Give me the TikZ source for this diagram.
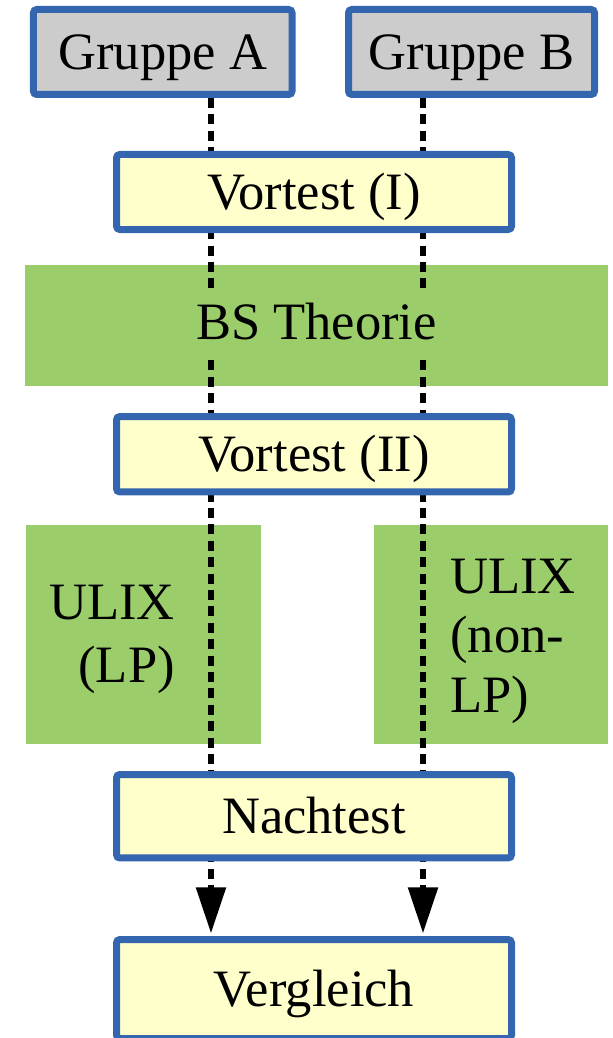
\documentclass[tikz,border=0pt]{standalone}
\usepackage{fontspec}
\setmainfont{Liberation Serif}
\usetikzlibrary{arrows.meta}

\definecolor{frameblue}{RGB}{52,101,175}
\definecolor{boxgray}{RGB}{204,204,204}
\definecolor{boxyellow}{RGB}{255,255,204}
\definecolor{phasegreen}{RGB}{155,205,106}

\pgfdeclarelayer{back}
\pgfsetlayers{back,main}

\tikzset{
  txt/.style={font=\fontsize{39.4}{46}\selectfont},
  framed/.style={draw=frameblue, line width=5.25pt, rounded corners=2.5pt,
    inner sep=0pt, text height=26pt, text depth=0pt, txt},
  groupbox/.style={framed, fill=boxgray, minimum height=63.75pt},
  testbox/.style={framed, fill=boxyellow, minimum width=296.25pt},
  phase/.style={fill=phasegreen, draw=none, inner sep=0pt},
  flow/.style={line width=4.2pt, dash pattern=on 7.5pt off 4.8pt,
    shorten >=2pt, -{Triangle[length=34.5pt,width=21.75pt]}}
}

\begin{document}
\begin{tikzpicture}[x=0.75pt,y=-0.75pt]
\useasboundingbox (0,0) rectangle (613,1038);

% green phase blocks (behind everything)
\begin{pgfonlayer}{back}
  \node[phase, minimum width=437.25pt, minimum height=90.75pt] (bs) at (316.5,325.5) {};
  \node[phase, minimum width=176.25pt, minimum height=164.25pt] (lp) at (143.5,634.5) {};
  \node[phase, minimum width=175.5pt, minimum height=164.25pt] (nlp) at (491,634.5) {};
\end{pgfonlayer}

% groups and tests
\node[groupbox, minimum width=193.9pt] (ga) at (162.75,52) {Gruppe A};
\node[groupbox, minimum width=184.5pt] (gb) at (471.5,52) {Gruppe B};
\node[testbox, minimum height=56.25pt] (v1) at (314,192) {Vortest (I)};
\node[testbox, minimum height=56.6pt] (v2) at (314,454.25) {Vortest (II)};
\node[testbox, minimum height=62.6pt] (nt) at (314,816.25) {Nachtest};
\node[testbox, minimum height=74.25pt] (vg) at (314,989) {Vergleich};

% phase labels (base anchor sits on the last line)
\node[txt, fill=phasegreen, text height=26pt, text depth=0pt,
      inner xsep=3pt, inner ysep=11pt] (bst) at (316.5,322.5) {BS Theorie};
\node[txt, align=right, anchor=base east, inner sep=0pt,
      font=\fontsize{39.4}{47.25}\selectfont] (lpt) at (175,682) {ULIX\\(LP)};
\node[txt, align=left, anchor=base west, inner sep=0pt,
      font=\fontsize{39.4}{44.6}\selectfont] (nlpt) at (450,712) {ULIX\\(non-\\LP)};

% the two group paths
\coordinate (colA) at (211,0);
\coordinate (colB) at (423,0);
\begin{pgfonlayer}{back}
  \draw[flow] (colA |- ga.south) -- (colA |- vg.north);
  \draw[flow] (colB |- gb.south) -- (colB |- vg.north);
\end{pgfonlayer}
\end{tikzpicture}
\end{document}
